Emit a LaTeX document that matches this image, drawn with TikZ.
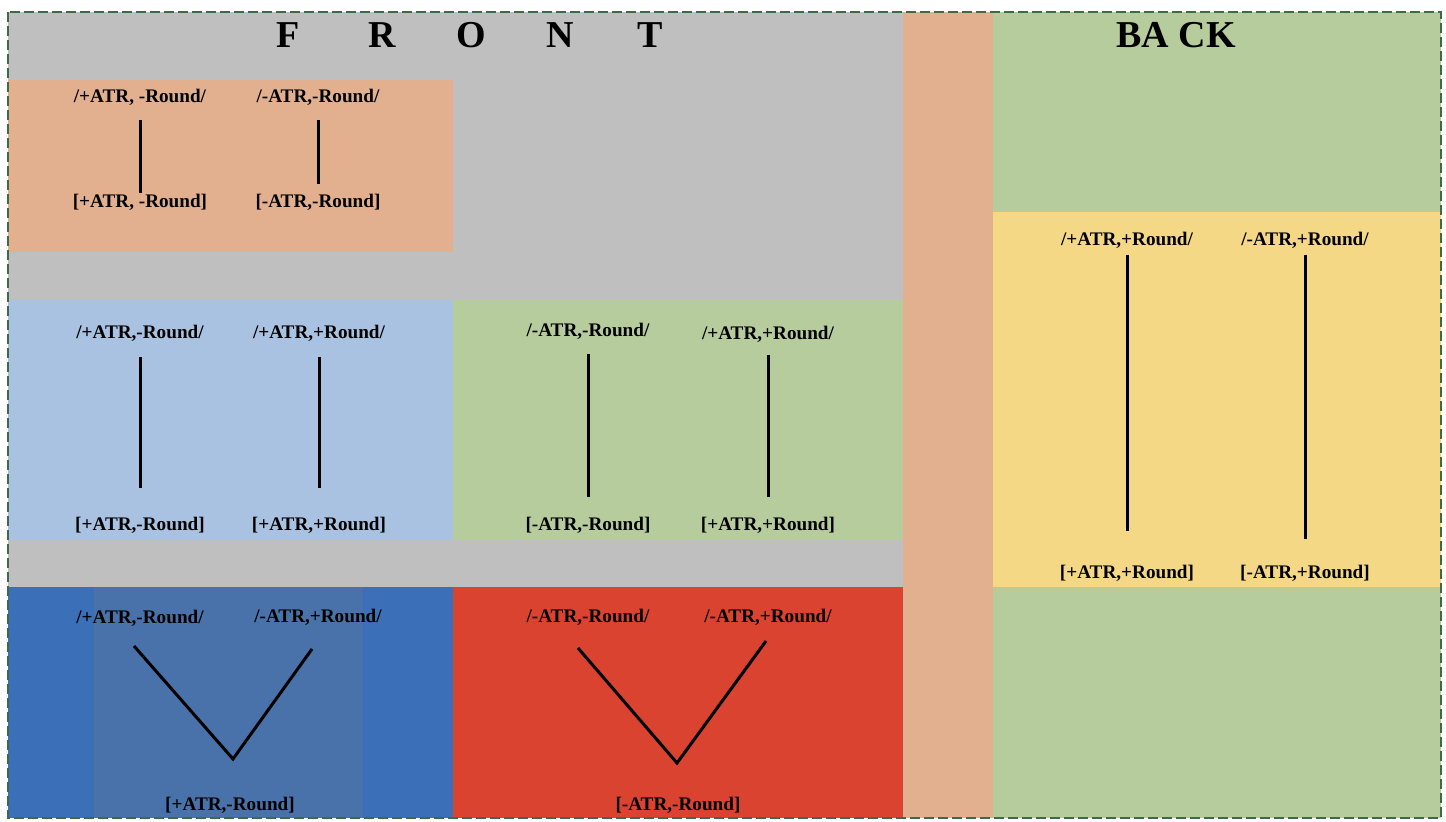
\documentclass[tikz,border=0pt]{standalone}
\usepackage{fontspec}
\setmainfont{Liberation Serif}
\usetikzlibrary{positioning}
\definecolor{frontgray}{HTML}{BFBFBF}
\definecolor{salmon}{HTML}{E3B08F}
\definecolor{paleblue}{HTML}{A9C2E2}
\definecolor{sage}{HTML}{B6CC9D}
\definecolor{butter}{HTML}{F4D885}
\definecolor{deepblue}{HTML}{3B6FB7}
\definecolor{greyblue}{HTML}{4A72AA}
\definecolor{brick}{HTML}{D9432F}
\definecolor{rim}{HTML}{3B6B48}
\tikzset{
  form/.style={font=\fontsize{9.6}{11}\selectfont\bfseries, inner sep=2pt},
  title/.style={font=\fontsize{19}{22}\selectfont\bfseries},
  link/.style={line width=1.5pt},
  rimline/.style={draw=rim, line width=1pt, dash pattern=on 5pt off 2pt}
}

\begin{document}
\begin{tikzpicture}[x=0.5pt, y=-0.5pt]
  \useasboundingbox (0,0) rectangle (1446,822);
  \fill[white] (0,0) rectangle (1446,822);
  % areas
  \fill[frontgray] (8,12) rectangle (903,818);
  \fill[salmon] (903,12) rectangle (993,818);
  \fill[sage] (993,12) rectangle (1441,818);
  \fill[butter] (993,212) rectangle (1441,587);
  % front panels
  \fill[salmon] (8,80) rectangle (453,252);
  \fill[paleblue] (8,300) rectangle (453,540);
  \fill[sage] (453,300) rectangle (903,540);
  \fill[deepblue] (8,587) rectangle (453,818);
  \fill[greyblue] (94,587) rectangle (363,818);
  \fill[brick] (453,587) rectangle (903,818);
  \draw[rimline] (8,12) rectangle (1441,818);

  % titles
  \foreach \ch/\xx [count=\i] in {F/288,R/382,O/471,N/560,T/650}
    \node[title] (front\i) at (\xx,35) {\ch};
  \node[title] (back) at (1176,35) {BA CK};

  % salmon panel
  \node[form] (sa1) at (140,97) {/+ATR, -Round/};
  \node[form] (sa2) at (318,97) {/-ATR,-Round/};
  \node[form] (sa3) at (140,202) {[+ATR, -Round]};
  \node[form] (sa4) at (318,202) {[-ATR,-Round]};
  \draw[link, shorten <=5pt, shorten >=-2pt] (sa1.south) -- (sa3.north);
  \draw[link, shorten <=5pt, shorten >=2.5pt] (sa2.south) -- (sa4.north);

  % pale blue panel
  \node[form] (pb1) at (140,333) {/+ATR,-Round/};
  \node[form] (pb2) at (319,333) {/+ATR,+Round/};
  \node[form] (pb3) at (140,525) {[+ATR,-Round]};
  \node[form] (pb4) at (319,525) {[+ATR,+Round]};
  \draw[link, shorten <=5.5pt, shorten >=12pt] (pb1.south) -- (pb3.north);
  \draw[link, shorten <=5.5pt, shorten >=12pt] (pb2.south) -- (pb4.north);

  % sage panel
  \node[form] (sg1) at (588,331) {/-ATR,-Round/};
  \node[form] (sg2) at (768,334) {/+ATR,+Round/};
  \node[form] (sg3) at (588,525) {[-ATR,-Round]};
  \node[form] (sg4) at (768,525) {[+ATR,+Round]};
  \draw[link, shorten <=5pt, shorten >=7.5pt] (sg1.south) -- (sg3.north);
  \draw[link, shorten <=4pt, shorten >=7.5pt] (sg2.south) -- (sg4.north);

  % deep blue panel
  \node[form] (db1) at (140,618) {/+ATR,-Round/};
  \node[form] (db2) at (318,617) {/-ATR,+Round/};
  \node[form] (db3) at (230,805) {[+ATR,-Round]};
  \coordinate (dbl) at (134,646);
  \coordinate (dbv) at (233,759);
  \coordinate (dbr) at (312,649);
  \draw[link] (dbl) -- (dbv) -- (dbr);

  % brick panel
  \node[form] (br1) at (588,617) {/-ATR,-Round/};
  \node[form] (br2) at (768,617) {/-ATR,+Round/};
  \node[form] (br3) at (678,805) {[-ATR,-Round]};
  \coordinate (brl) at (578,648);
  \coordinate (brv) at (677,763);
  \coordinate (brr) at (766,641);
  \draw[link] (brl) -- (brv) -- (brr);

  % butter panel
  \node[form] (bu1) at (1127,240) {/+ATR,+Round/};
  \node[form] (bu2) at (1305,240) {/-ATR,+Round/};
  \node[form] (bu3) at (1127,573) {[+ATR,+Round]};
  \node[form] (bu4) at (1305,573) {[-ATR,+Round]};
  \draw[link, shorten <=1pt, shorten >=14.5pt] (bu1.south) -- (bu3.north);
  \draw[link, shorten <=1pt, shorten >=10.5pt] (bu2.south) -- (bu4.north);
\end{tikzpicture}
\end{document}
